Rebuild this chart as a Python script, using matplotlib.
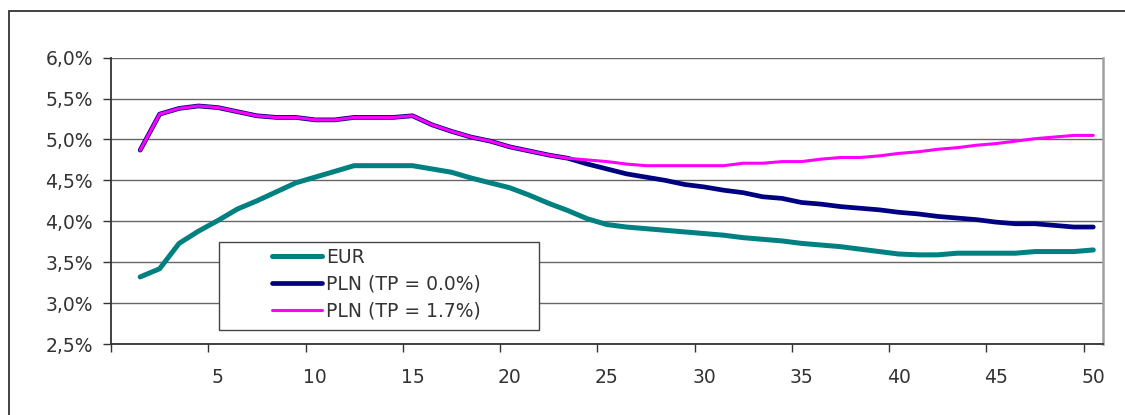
import numpy as np
import matplotlib
matplotlib.use("Agg")
from matplotlib import pyplot as plt
from matplotlib.patches import Rectangle
from matplotlib.ticker import FuncFormatter

# maturities (years)
years = list(range(1, 51))

eur = [3.32, 3.42, 3.73, 3.88, 4.01, 4.15, 4.25, 4.36, 4.47, 4.54,
       4.61, 4.68, 4.68, 4.68, 4.68, 4.64, 4.60, 4.53, 4.47, 4.41,
       4.32, 4.22, 4.13, 4.03, 3.96, 3.93, 3.91, 3.89, 3.87, 3.85,
       3.83, 3.80, 3.78, 3.76, 3.73, 3.71, 3.69, 3.66, 3.63, 3.60,
       3.59, 3.59, 3.61, 3.61, 3.61, 3.61, 3.63, 3.63, 3.63, 3.65]

pln_tp0 = [4.87, 5.31, 5.38, 5.41, 5.39, 5.34, 5.29, 5.27, 5.27, 5.24,
           5.24, 5.27, 5.27, 5.27, 5.29, 5.18, 5.10, 5.03, 4.98, 4.91,
           4.86, 4.81, 4.77, 4.70, 4.64, 4.58, 4.54, 4.50, 4.45, 4.42,
           4.38, 4.35, 4.30, 4.28, 4.23, 4.21, 4.18, 4.16, 4.14, 4.11,
           4.09, 4.06, 4.04, 4.02, 3.99, 3.97, 3.97, 3.95, 3.93, 3.93]

pln_tp17 = [4.87, 5.31, 5.38, 5.41, 5.39, 5.34, 5.29, 5.27, 5.27, 5.24,
            5.24, 5.27, 5.27, 5.27, 5.29, 5.18, 5.10, 5.03, 4.98, 4.91,
            4.86, 4.81, 4.77, 4.75, 4.73, 4.70, 4.68, 4.68, 4.68, 4.68,
            4.68, 4.71, 4.71, 4.73, 4.73, 4.76, 4.78, 4.78, 4.80, 4.83,
            4.85, 4.88, 4.90, 4.93, 4.95, 4.98, 5.01, 5.03, 5.05, 5.05]

labels = ["EUR", "PLN (TP = 0.0%)", "PLN (TP = 1.7%)"]
colors = ["#008080", "#000080", "#FF00FF"]

W, H = 1125, 415
FS = 13.5
TXT = "#333333"
plt.rcParams['font.family'] = ['DejaVu Sans']
fig = plt.figure(figsize=(W / 100, H / 100), dpi=100)

# outer chart border
fig.patches.append(Rectangle((9 / W, -0.05), 1.2, 1 - 11 / H + 0.05,
                             transform=fig.transFigure, fill=False,
                             edgecolor="#333333", lw=1.3))

ax = fig.add_axes([111 / W, 1 - 344 / H, (1103 - 111) / W, (344 - 57.7) / H])

x = np.array(years) + 0.5
ax.plot(x, eur, color=colors[0], lw=3.6, solid_capstyle="round", solid_joinstyle="round", label=labels[0])
ax.plot(x, pln_tp0, color=colors[1], lw=3.4, solid_capstyle="round", solid_joinstyle="round", label=labels[1])
ax.plot(x, pln_tp17, color=colors[2], lw=2.2, solid_capstyle="round", solid_joinstyle="round", label=labels[2])

ax.set_xlim(0, 51)
ax.set_ylim(2.5, 6.0)
ax.set_yticks(np.arange(2.5, 6.01, 0.5))
ax.yaxis.set_major_formatter(FuncFormatter(lambda v, p: ("%.1f%%" % v).replace(".", ",")))
ax.grid(axis="y", color="#666666", lw=1.0)
ax.set_axisbelow(True)

ax.set_xticks(range(0, 51, 5))
ax.set_xticklabels([])
ax.set_xticks([v + 0.5 for v in range(5, 51, 5)], minor=True)
ax.set_xticklabels([str(v) for v in range(5, 51, 5)], minor=True)
ax.tick_params(axis="x", which="major", direction="out", length=6, width=1, color="#333333")
ax.tick_params(axis="x", which="minor", length=0, pad=17, labelsize=FS, labelcolor=TXT)
ax.tick_params(axis="y", direction="out", length=6, width=1, color="#333333", pad=7,
               labelsize=FS, labelcolor=TXT)

for s in ["left", "bottom"]:
    ax.spines[s].set_color("#333333")
    ax.spines[s].set_linewidth(1.3)
ax.spines["top"].set_visible(False)
ax.spines["right"].set_color("#a0a0a0")
ax.spines["right"].set_linewidth(1.8)

# legend box
fig.patches.append(Rectangle((219 / W, 1 - 330 / H), (539 - 219) / W, (330 - 242) / H,
                             transform=fig.transFigure, facecolor="white",
                             edgecolor="#444444", lw=1.0, zorder=5))
leg = fig.legend(loc="upper left", bbox_to_anchor=(272 / W, 1 - 248 / H),
                 frameon=False, fontsize=FS, handlelength=2.65, handletextpad=0.25,
                 labelspacing=0.42, borderpad=0, borderaxespad=0)
for t in leg.get_texts():
    t.set_color(TXT)
leg.set_zorder(6)

fig.savefig("out.png", dpi=100)
